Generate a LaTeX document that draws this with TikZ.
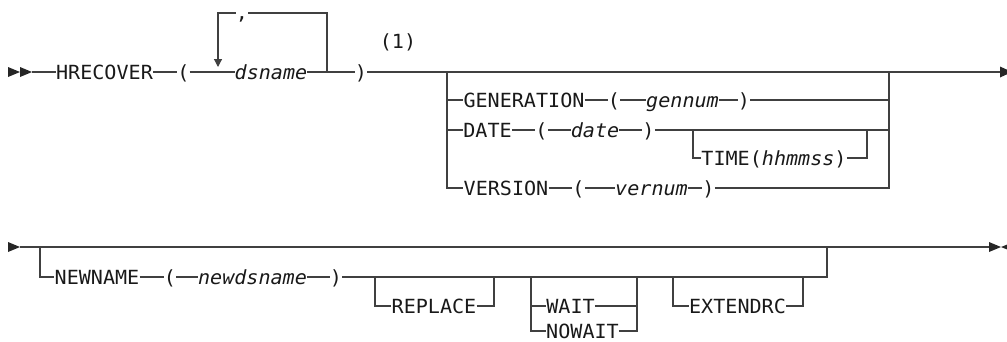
\documentclass[tikz,border=0pt]{standalone}
\usepackage{fontspec}
\newfontfamily\synfont[FakeStretch=1.03]{DejaVu Sans Mono}
\usetikzlibrary{arrows.meta}
\tikzset{
  kw/.style={inner sep=0pt, text height=14.2pt, text depth=0pt,
    font=\synfont\fontsize{19.5}{20}\selectfont, text=black!90},
  var/.style={kw, font=\synfont\itshape\fontsize{19.5}{20}\selectfont},
  rail/.style={line width=1.2pt, draw=black!75},
  tip/.style={fill=black!85}
}
\begin{document}
\begin{tikzpicture}[x=1pt,y=-1pt]
  \useasboundingbox (0,0) rectangle (1007,341);
  \clip (0,0) rectangle (1007,341);
  \draw
    (104.5,72) node[kw] (hrecover) {HRECOVER}
    (183.5,72) node[kw] (lpa) {(}
    (271,72) node[var] (dsname) {dsname}
    (361,72) node[kw] (rpa) {)}
    (242,19.5) node[kw, anchor=base] (comma) {,}
    (398,41.5) node[kw] (note) {(1)}
    (524,100) node[kw] (generation) {GENERATION}
    (614,100) node[kw] (lpb) {(}
    (682.5,100) node[var] (gennum) {gennum}
    (744,100) node[kw] (rpb) {)}
    (487.5,130) node[kw] (date) {DATE}
    (541.5,130) node[kw] (lpc) {(}
    (595,130) node[var] (dateval) {date}
    (648.5,130) node[kw] (rpc) {)}
    (774,158) node[kw] (time) {TIME(\textit{hhmmss})}
    (506,188) node[kw] (version) {VERSION}
    (578.5,188) node[kw] (lpd) {(}
    (651.5,188) node[var] (vernum) {vernum}
    (708.5,188) node[kw] (rpd) {)}
    (97,277) node[kw] (newname) {NEWNAME}
    (170,277) node[kw] (lpe) {(}
    (252.5,277) node[var] (newdsname) {newdsname}
    (336,277) node[kw] (rpe) {)}
    (434,306) node[kw] (replace) {REPLACE}
    (570.5,306) node[kw] (wait) {WAIT}
    (582.5,331) node[kw] (nowait) {NOWAIT}
    (737.5,306) node[kw] (extendrc) {EXTENDRC};
  \coordinate (sa) at (32,72);
  \coordinate (ea) at (1000,72);
  \coordinate (loopa) at (218,13);
  \coordinate (loopb) at (218,67);
  \coordinate (loopc) at (327,13);
  \coordinate (loopd) at (327,72);
  \coordinate (bra) at (447,72);
  \coordinate (gen0) at (447,100);
  \coordinate (date0) at (447,130);
  \coordinate (ver0) at (447,188);
  \coordinate (brb) at (889,72);
  \coordinate (gen1) at (889,100);
  \coordinate (date1) at (889,130);
  \coordinate (ver1) at (889,188);
  \coordinate (time0) at (693,130);
  \coordinate (time0b) at (693,158);
  \coordinate (time1) at (867,130);
  \coordinate (time1b) at (867,158);
  \coordinate (sb) at (20,247);
  \coordinate (eb) at (989,247);
  \coordinate (nn0) at (40,247);
  \coordinate (nn0b) at (40,277);
  \coordinate (nn1) at (827,277);
  \coordinate (nn1b) at (827,247);
  \coordinate (rep0) at (375,277);
  \coordinate (rep0b) at (375,306);
  \coordinate (rep1) at (494,277);
  \coordinate (rep1b) at (494,306);
  \coordinate (wt0) at (531,277);
  \coordinate (wt0b) at (531,306);
  \coordinate (wt0c) at (531,331);
  \coordinate (wt1) at (637,277);
  \coordinate (wt1b) at (637,306);
  \coordinate (wt1c) at (637,331);
  \coordinate (ex0) at (673,277);
  \coordinate (ex0b) at (673,306);
  \coordinate (ex1) at (803,277);
  \coordinate (ex1b) at (803,306);
  \begin{scope}[rail]
    \draw (sa) to (hrecover.west);
    \draw (hrecover.east) to (lpa.west);
    \draw (lpa.east) to (dsname.west);
    \draw (dsname.east) to (rpa.west);
    \draw (rpa.east) to (ea);
    \draw (loopd) -- (loopc) -- (comma.east |- loopc);
    \draw[-{Triangle[length=8pt,width=8pt]}] (comma.west |- loopa) -- (loopa) -- (loopb);
    \draw (bra) -- (ver0) -- (version.west);
    \draw (gen0) to (generation.west);
    \draw (date0) to (date.west);
    \draw (generation.east) to (lpb.west);
    \draw (lpb.east) to (gennum.west);
    \draw (gennum.east) to (rpb.west);
    \draw (rpb.east) to (gen1);
    \draw (date.east) to (lpc.west);
    \draw (lpc.east) to (dateval.west);
    \draw (dateval.east) to (rpc.west);
    \draw (rpc.east) to (date1);
    \draw (time0) -- (time0b) -- (time.west);
    \draw (time.east) -- (time1b) -- (time1);
    \draw (version.east) to (lpd.west);
    \draw (lpd.east) to (vernum.west);
    \draw (vernum.east) to (rpd.west);
    \draw (rpd.east) -- (ver1) -- (brb);
    \draw (sb) to (eb);
    \draw (nn0) -- (nn0b) -- (newname.west);
    \draw (newname.east) to (lpe.west);
    \draw (lpe.east) to (newdsname.west);
    \draw (newdsname.east) to (rpe.west);
    \draw (rpe.east) -- (nn1) -- (nn1b);
    \draw (rep0) -- (rep0b) -- (replace.west);
    \draw (replace.east) -- (rep1b) -- (rep1);
    \draw (wt0) -- (wt0c) -- (nowait.west);
    \draw (wt0b) to (wait.west);
    \draw (wait.east) to (wt1b);
    \draw (nowait.east) -- (wt1c) -- (wt1);
    \draw (ex0) -- (ex0b) -- (extendrc.west);
    \draw (extendrc.east) -- (ex1b) -- (ex1);
  \end{scope}
  \fill[tip] (8,67) -- (20,72) -- (8,77) -- cycle
    (20,67) -- (32,72) -- (20,77) -- cycle
    (1000,66.5) -- (1012,72) -- (1000,77.5) -- cycle
    (8,242) -- (20,247) -- (8,252) -- cycle
    (989,242) -- (1001,247) -- (989,252) -- cycle
    (1001,247) -- (1011,243) -- (1011,251) -- cycle;
\end{tikzpicture}
\end{document}
